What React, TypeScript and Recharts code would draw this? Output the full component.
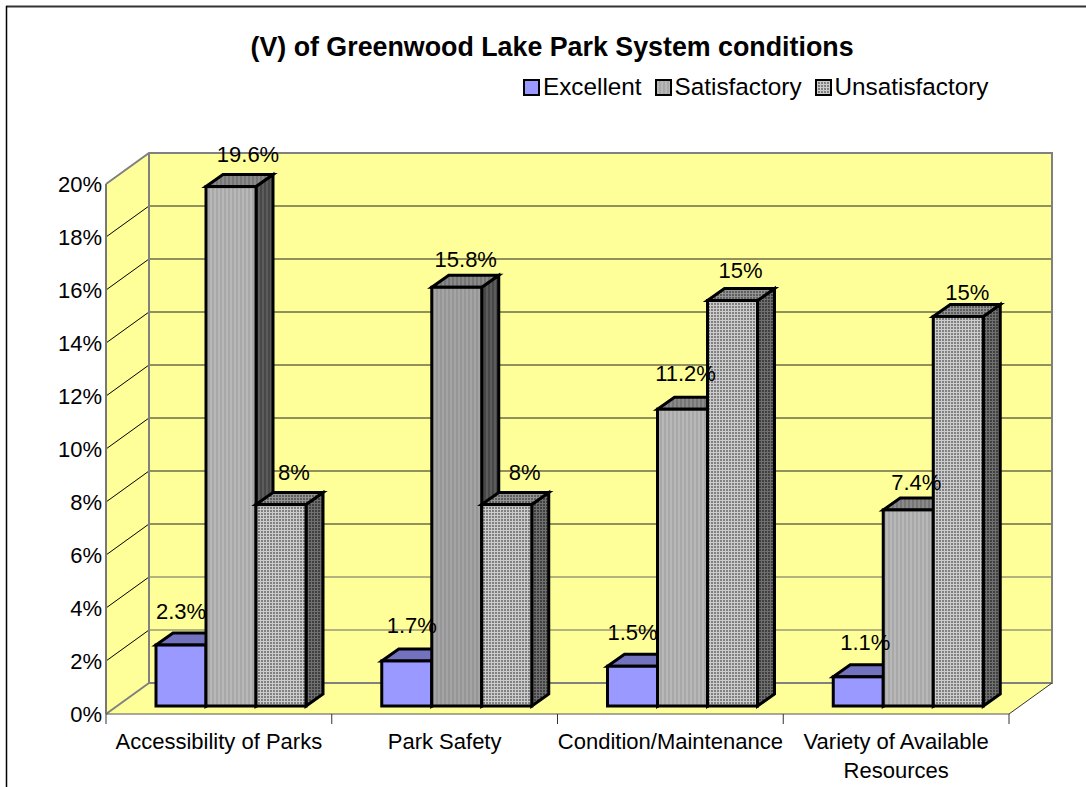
import { BarChart, Bar, XAxis, YAxis, Legend, LabelList, Customized } from "recharts";

const categories = ["Accessibility of Parks", "Park Safety", "Condition/Maintenance", "Variety of Available Resources"];
const excellent = [2.3, 1.7, 1.5, 1.1];
const satisfactory = [19.6, 15.8, 11.2, 7.4];
const unsatisfactory = [7.6, 7.6, 15.3, 14.7];
const excellentLabels = ["2.3%", "1.7%", "1.5%", "1.1%"];
const satisfactoryLabels = ["19.6%", "15.8%", "11.2%", "7.4%"];
const unsatisfactoryLabels = ["8%", "8%", "15%", "15%"];
const yTicks = [0, 2, 4, 6, 8, 10, 12, 14, 16, 18, 20];

const data = categories.map((name, i) => ({
  name,
  excellent: excellent[i],
  satisfactory: satisfactory[i],
  unsatisfactory: unsatisfactory[i],
}));

const W = 1086;
const H = 787;
const FONT = "'Liberation Sans', Arial, sans-serif";
// front plane of the plot
const LEFT = 106;
const RIGHT = 1009;
const TOP = 184;
const BOTTOM = 714;
const BAND = (RIGHT - LEFT) / categories.length;
// depth of the walls and of the bars
const WALL_DX = 43;
const WALL_DY = -31;
const BAR_DX = 17;
const BAR_DY = -12;
const SHIFT_X = 12.4;
const SHIFT_Y = -8;

const yOf = (v: number) => BOTTOM - (v / 20) * (BOTTOM - TOP);

function Patterns() {
  const stripes = (id: string, a: string, b: string) => (
    <pattern id={id} width={4} height={4} patternUnits="userSpaceOnUse">
      <rect width={4} height={4} fill={a} />
      <rect width={2} height={4} fill={b} />
    </pattern>
  );
  const dots = (id: string, a: string, b: string) => (
    <pattern id={id} width={3} height={3} patternUnits="userSpaceOnUse">
      <rect width={3} height={3} fill={a} />
      <rect width={2} height={2} fill={b} />
    </pattern>
  );
  return (
    <svg width={0} height={0} style={{ position: "absolute" }}>
      <defs>
        {stripes("stripes", "#B8B8B8", "#A8A8A8")}
        {stripes("stripesDark", "#A4A4A4", "#969696")}
        {stripes("stripesTop", "#8A8A8A", "#767676")}
        {stripes("stripesSide", "#5C5C5C", "#484848")}
        {dots("dots", "#CCCCCC", "#808080")}
        {dots("dotsTop", "#949494", "#5E5E5E")}
        {dots("dotsSide", "#707070", "#404040")}
      </defs>
    </svg>
  );
}

function Walls() {
  const bx = LEFT + WALL_DX;
  const backRight = RIGHT + WALL_DX;
  const yt = TOP + WALL_DY;
  const yb = BOTTOM + WALL_DY;
  return (
    <g>
      <line x1={6} y1={6.5} x2={W} y2={6.5} stroke="#333" strokeWidth={2} />
      <line x1={6.5} y1={6} x2={6.5} y2={H} stroke="#000" strokeWidth={1.5} />
      <text x={552} y={56} textAnchor="middle" fontFamily={FONT} fontWeight="bold" fontSize={26.8} fill="#000">
        (V) of Greenwood Lake Park System conditions
      </text>
      <polygon points={`${LEFT},${TOP} ${bx},${yt} ${bx},${yb} ${LEFT},${BOTTOM}`} fill="#FFFF99" />
      <rect x={bx} y={yt} width={RIGHT - LEFT} height={BOTTOM - TOP} fill="#FFFF99" />
      <polygon points={`${LEFT},${BOTTOM} ${bx},${yb} ${backRight},${yb} ${RIGHT},${BOTTOM}`} fill="#FFFF99" />
      {yTicks.slice(1, -1).map((t) => (
        <g key={t}>
          <line x1={LEFT} y1={yOf(t)} x2={bx} y2={yOf(t) + WALL_DY} stroke="#000" strokeWidth={1} />
          <line x1={bx} y1={yOf(t) + WALL_DY} x2={backRight} y2={yOf(t) + WALL_DY} stroke={t <= 4 ? "#666" : "#222"} strokeWidth={1} />
        </g>
      ))}
      <polyline
        points={`${LEFT},${TOP} ${bx},${yt} ${backRight},${yt} ${backRight},${yb} ${bx},${yb} ${bx},${yt}`}
        fill="none"
        stroke="#808080"
        strokeWidth={2}
      />
      <line x1={LEFT} y1={BOTTOM} x2={bx} y2={yb} stroke="#808080" strokeWidth={2} />
      <line x1={RIGHT} y1={BOTTOM} x2={backRight} y2={yb} stroke="#333" strokeWidth={1} />
      <line x1={LEFT} y1={TOP} x2={LEFT} y2={BOTTOM} stroke="#777" strokeWidth={2} />
      <line x1={LEFT} y1={BOTTOM} x2={RIGHT} y2={BOTTOM} stroke="#555" strokeWidth={1} />
    </g>
  );
}

type Faces = { front: string | ((i: number) => string); top: string; side: string };

const makeBox = (faces: Faces) => (props: any) => {
  const { x, y, width, height, index } = props;
  const x0 = x + SHIFT_X;
  const y0 = y + SHIFT_Y;
  const x1 = x0 + width;
  const y1 = y0 + height;
  const front = typeof faces.front === "function" ? faces.front(index) : faces.front;
  return (
    <g stroke="#000" strokeWidth={3} strokeLinejoin="miter">
      <polygon points={`${x1},${y0} ${x1 + BAR_DX},${y0 + BAR_DY} ${x1 + BAR_DX},${y1 + BAR_DY} ${x1},${y1}`} fill={faces.side} />
      <polygon points={`${x0},${y0} ${x0 + BAR_DX},${y0 + BAR_DY} ${x1 + BAR_DX},${y0 + BAR_DY} ${x1},${y0}`} fill={faces.top} />
      <rect x={x0} y={y0} width={width} height={height} fill={front} />
    </g>
  );
};

const makeLabel = (labels: string[], nudgeX: number[], nudgeY: number[]) => (props: any) => {
  const { x, y, width, index } = props;
  return (
    <text
      x={x + SHIFT_X + width / 2 + nudgeX[index]}
      y={y + SHIFT_Y + nudgeY[index]}
      textAnchor="middle"
      fontFamily={FONT}
      fontSize={22}
      fill="#000"
    >
      {labels[index]}
    </text>
  );
};

function CategoryTick(props: any) {
  const { x, y, payload, index } = props;
  const words: string[] = String(payload.value).split(" ");
  const lines = index === 3 ? [words.slice(0, 3).join(" "), words[3]] : [payload.value];
  return (
    <g>
      <line x1={x - BAND / 2} y1={BOTTOM} x2={x - BAND / 2} y2={BOTTOM + 10} stroke="#333" />
      {index === categories.length - 1 && (
        <line x1={x + BAND / 2} y1={BOTTOM} x2={x + BAND / 2} y2={BOTTOM + 10} stroke="#333" />
      )}
      <text textAnchor="middle" fontFamily={FONT} fontSize={22} fill="#000">
        {lines.map((l: string, i: number) => (
          <tspan key={i} x={x} y={y + 27 + i * 29}>
            {l}
          </tspan>
        ))}
      </text>
    </g>
  );
}

function LegendBox({ payload }: any) {
  return (
    <div style={{ display: "flex", fontFamily: FONT, fontSize: 24.3, color: "#000", whiteSpace: "nowrap" }}>
      {payload.map((p: any) => (
        <div key={p.value} style={{ display: "flex", alignItems: "center", marginRight: 13 }}>
          <svg width={17} height={17} style={{ marginRight: 3 }}>
            <rect x={1} y={1} width={15} height={15} fill={p.color} stroke="#000" strokeWidth={2} />
          </svg>
          {p.value}
        </div>
      ))}
    </div>
  );
}

export default function App() {
  return (
    <div style={{ position: "absolute", left: 0, top: 0, width: W, height: H, background: "#fff" }}>
      <Patterns />
      <BarChart
        width={W}
        height={H}
        data={data}
        margin={{ top: TOP, left: LEFT - 60, right: W - RIGHT, bottom: 23 }}
        barGap={0}
        barCategoryGap={37.6}
      >
        <Customized component={Walls} />
        <XAxis dataKey="name" height={50} interval={0} axisLine={false} tickLine={false} tick={CategoryTick} />
        <YAxis
          width={60}
          domain={[0, 20]}
          ticks={yTicks}
          interval={0}
          tickFormatter={(v) => `${v}%`}
          axisLine={false}
          tickLine={false}
          tickSize={2}
          tickMargin={2}
          tick={{ fontFamily: FONT, fontSize: 22, fill: "#000" }}
        />
        <Legend
          layout="horizontal"
          verticalAlign="middle"
          content={LegendBox}
          wrapperStyle={{ position: "absolute", left: 523, top: 73, width: "auto" }}
        />
        <Bar
          dataKey="excellent"
          name="Excellent"
          fill="#9999FF"
          isAnimationActive={false}
          shape={makeBox({ front: "#9999FF", top: "#7272BE", side: "#4C4C80" })}
        >
          <LabelList dataKey="excellent" content={makeLabel(excellentLabels, [0, 5, 0, 7], [-26, -28, -26, -27])} />
        </Bar>
        <Bar
          dataKey="satisfactory"
          name="Satisfactory"
          fill="url(#stripes)"
          isAnimationActive={false}
          shape={makeBox({ front: (i) => (i === 1 ? "url(#stripesDark)" : "url(#stripes)"), top: "url(#stripesTop)", side: "url(#stripesSide)" })}
        >
          <LabelList dataKey="satisfactory" content={makeLabel(satisfactoryLabels, [17, 9, 3, 8], [-25, -20, -28, -20])} />
        </Bar>
        <Bar
          dataKey="unsatisfactory"
          name="Unsatisfactory"
          fill="url(#dots)"
          isAnimationActive={false}
          shape={makeBox({ front: "url(#dots)", top: "url(#dotsTop)", side: "url(#dotsSide)" })}
        >
          <LabelList dataKey="unsatisfactory" content={makeLabel(unsatisfactoryLabels, [13, 18, 8, 9], [-25, -25, -23, -16])} />
        </Bar>
      </BarChart>
    </div>
  );
}
